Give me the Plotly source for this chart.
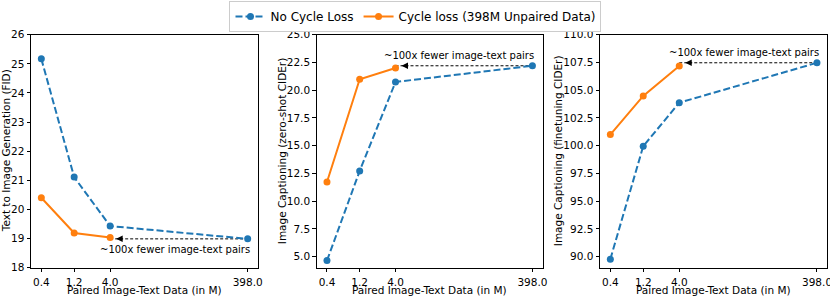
import math
import plotly.graph_objects as go
from plotly.subplots import make_subplots

# ---- data ----
x_data = [0.4, 1.2, 4.0, 398.0]
x_ticktext = ["0.4", "1.2", "4.0", "398.0"]
x_orange = [0.4, 1.2, 4.0]

fid_no_cycle = [25.17, 21.11, 19.43, 18.99]
fid_cycle = [20.40, 19.19, 19.04]

zs_no_cycle = [4.64, 12.72, 20.74, 22.20]
zs_cycle = [11.73, 20.98, 22.00]

ft_no_cycle = [89.77, 99.95, 103.87, 107.47]
ft_cycle = [101.0, 104.48, 107.18]

y_titles = ["Text to Image Generation (FID)",
            "Image Captioning (zero-shot CIDEr)",
            "Image Captioning (finetuning CIDEr)"]
x_title = "Paired Image-Text Data (in M)"
note_text = "~100x fewer image-text pairs"
series_names = ["No Cycle Loss", "Cycle loss (398M Unpaired Data)"]

y_ranges = [[18, 26], [4, 25], [89, 110]]
y_ticks = [[18, 19, 20, 21, 22, 23, 24, 25, 26],
           [5.0, 7.5, 10.0, 12.5, 15.0, 17.5, 20.0, 22.5, 25.0],
           [90.0, 92.5, 95.0, 97.5, 100.0, 102.5, 105.0, 107.5, 110.0]]
y_fmt = ["d", ".1f", ".1f"]

BLUE = "#1f77b4"
ORANGE = "#ff7f0e"
FONT = "DejaVu Sans"
W, H = 830, 297

fig = make_subplots(rows=1, cols=3)

panels = [(fid_no_cycle, fid_cycle), (zs_no_cycle, zs_cycle), (ft_no_cycle, ft_cycle)]
x_doms_px = [(31, 258), (316.7, 542.7), (600, 827.3)]
y_dom = [1 - 267.7 / H, 1 - 34.7 / H]
note_shift = [-11, 10, 10]

annotations = []
for i, (blue, orange) in enumerate(panels):
    col = i + 1
    arrow_y = blue[-1]
    # dashed arrow line (from 398 to 4.0)
    fig.add_trace(go.Scatter(x=[x_orange[-1], x_data[-1]], y=[arrow_y, arrow_y],
                             mode="lines", line=dict(color="black", width=1, dash="3px,2px"),
                             showlegend=False, hoverinfo="skip"), row=1, col=col)
    fig.add_trace(go.Scatter(x=x_data, y=blue, mode="lines+markers", name=series_names[0],
                             line=dict(color=BLUE, width=2, dash="7px,3px"),
                             marker=dict(color=BLUE, size=7), showlegend=(i == 0),
                             legendrank=1), row=1, col=col)
    fig.add_trace(go.Scatter(x=x_orange, y=orange, mode="lines+markers", name=series_names[1],
                             line=dict(color=ORANGE, width=2),
                             marker=dict(color=ORANGE, size=7), showlegend=(i == 0),
                             legendrank=2), row=1, col=col)
    xa = "xaxis" if i == 0 else f"xaxis{col}"
    ya = "yaxis" if i == 0 else f"yaxis{col}"
    xref = "x" if i == 0 else f"x{col}"
    yref = "y" if i == 0 else f"y{col}"
    x0, x1 = x_doms_px[i]
    last_panel = (i == 2)
    ticktext = x_ticktext[:-1] + [""] if last_panel else x_ticktext
    fig.layout[xa].update(
        type="log", range=[-0.548, 2.75], domain=[x0 / W, x1 / W],
        tickvals=x_data, ticktext=ticktext, automargin=False,
        showline=True, linecolor="black", linewidth=1, mirror=True,
        ticks="outside", ticklen=3.5, tickwidth=0.8, tickcolor="black",
        ticklabelstandoff=1,
        showgrid=False, zeroline=False,
        tickfont=dict(family=FONT, size=10.5, color="black"))
    fig.layout[ya].update(
        range=y_ranges[i], domain=y_dom, tickvals=y_ticks[i], tickformat=y_fmt[i],
        automargin=False,
        showline=True, linecolor="black", linewidth=1, mirror=True,
        ticks="outside", ticklen=3.5, tickwidth=0.8, tickcolor="black",
        showgrid=False, zeroline=False,
        tickfont=dict(family=FONT, size=10.5, color="black"))
    if last_panel:
        # last tick label runs past the right edge (as in the reference) -> draw as text
        annotations.append(dict(x=math.log10(x_data[-1]), y=1 - 281.5 / H, xref=xref, yref="paper",
                                text=x_ticktext[-1], showarrow=False, xanchor="center",
                                yanchor="middle", font=dict(family=FONT, size=10.5, color="black")))
    # arrowhead
    annotations.append(dict(x=math.log10(x_orange[-1]), y=arrow_y, xref=xref, yref=yref,
                            ax=14, ay=0, axref="pixel", ayref="pixel", text="",
                            showarrow=True, arrowhead=2, arrowsize=1.3, arrowwidth=1,
                            arrowcolor="black", standoff=6))
    # note text
    annotations.append(dict(x=math.log10(x_data[-1]), y=arrow_y, xref=xref, yref=yref,
                            text=note_text, showarrow=False, xanchor="right", yanchor="middle",
                            xshift=4, yshift=note_shift[i],
                            font=dict(family=FONT, size=10, color="black")))
    # axis titles
    annotations.append(dict(x=(x0 + x1) / 2 / W, y=1 - 289.5 / H, xref="paper", yref="paper",
                            text=x_title, showarrow=False, xanchor="center", yanchor="middle",
                            font=dict(family=FONT, size=10.5, color="black")))
    ytx = [6, 282, 558][i]
    annotations.append(dict(x=ytx / W, y=(y_dom[0] + y_dom[1]) / 2, xref="paper", yref="paper",
                            text=y_titles[i], showarrow=False, textangle=-90,
                            xanchor="center", yanchor="middle",
                            font=dict(family=FONT, size=10.5, color="black")))

fig.update_layout(
    width=W, height=H, margin=dict(l=0, r=0, t=0, b=0, autoexpand=False),
    paper_bgcolor="white", plot_bgcolor="white",
    font=dict(family=FONT, color="black"),
    annotations=annotations,
    legend=dict(orientation="h", x=0.5006, y=1 - 1 / H, xanchor="center", yanchor="top",
                bordercolor="#cccccc", borderwidth=1, bgcolor="white",
                font=dict(family=FONT, size=12, color="black"),
                traceorder="normal"),
)

fig.write_html("out.html", config={"displayModeBar": False},
               post_script="document.body.style.margin='0';document.body.style.overflow='hidden';")
